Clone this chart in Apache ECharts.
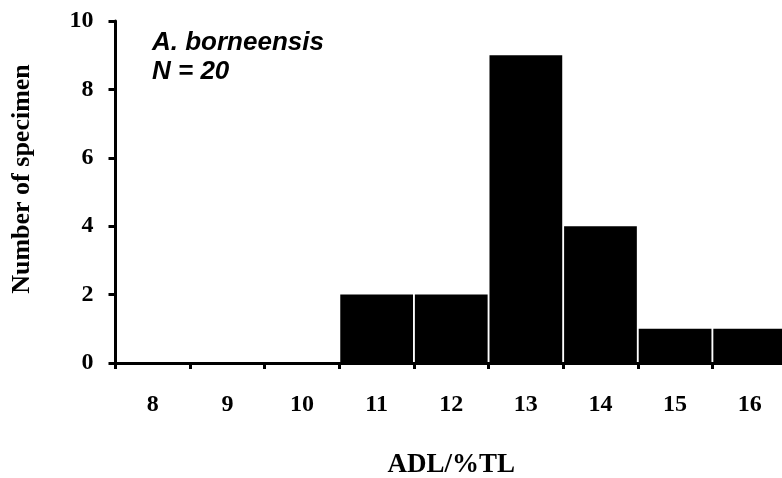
<!DOCTYPE html>
<html>
<head>
<meta charset="utf-8">
<script src="https://cdn.jsdelivr.net/npm/echarts@6/dist/echarts.min.js"></script>
<style>
html,body{margin:0;padding:0;background:#fff;}
#chart{width:782px;height:478px;}
</style>
</head>
<body>
<div id="chart"></div>
<script>
const categories = ['8','9','10','11','12','13','14','15','16'];
const counts = [0, 0, 0, 2, 2, 9, 4, 1, 1];
const yTicks = [0, 2, 4, 6, 8, 10];
const speciesLabel = 'A. borneensis';
const sampleLabel = 'N = 20';
const xAxisTitle = 'ADL/%TL';
const yAxisTitle = 'Number of specimen';

const serif = '"Liberation Serif", "Times New Roman", serif';
const sans = '"Liberation Sans", Arial, sans-serif';

const chart = echarts.init(document.getElementById('chart'), null, {renderer: 'canvas'});
chart.setOption({
  animation: false,
  backgroundColor: '#ffffff',
  title: {
    text: speciesLabel + '\n' + sampleLabel,
    left: 152,
    top: 28,
    padding: 0,
    textStyle: {
      fontFamily: sans,
      fontStyle: 'italic',
      fontWeight: 'bold',
      fontSize: 26,
      lineHeight: 29,
      color: '#000'
    }
  },
  grid: {left: 115.5, right: -5, top: 21, bottom: 115, containLabel: false, outerBoundsMode: 'none'},
  xAxis: {
    type: 'category',
    data: categories,
    boundaryGap: true,
    name: xAxisTitle,
    nameLocation: 'middle',
    nameGap: 89,
    nameTextStyle: {fontFamily: serif, fontWeight: 'bold', fontSize: 27, color: '#000'},
    axisLine: {show: true, lineStyle: {color: '#000', width: 3}},
    axisTick: {show: true, alignWithLabel: false, inside: false, length: 6, lineStyle: {color: '#000', width: 3}},
    axisLabel: {fontFamily: serif, fontWeight: 'bold', fontSize: 24, color: '#000', margin: 30},
    splitLine: {show: false}
  },
  yAxis: {
    type: 'value',
    min: yTicks[0],
    max: yTicks[yTicks.length - 1],
    interval: yTicks[1] - yTicks[0],
    name: yAxisTitle,
    nameLocation: 'middle',
    nameGap: 80,
    nameTextStyle: {fontFamily: serif, fontWeight: 'bold', fontSize: 26, color: '#000', padding: [0, 0, 0, 26]},
    axisLine: {show: true, lineStyle: {color: '#000', width: 3}},
    axisTick: {show: true, inside: false, length: 7, lineStyle: {color: '#000', width: 3}},
    axisLabel: {fontFamily: serif, fontWeight: 'bold', fontSize: 24, color: '#000', margin: 22},
    splitLine: {show: false}
  },
  series: [{
    type: 'bar',
    data: counts,
    barCategoryGap: '2.5%',
    itemStyle: {color: '#000'},
    silent: true
  }]
});
</script>
</body>
</html>
